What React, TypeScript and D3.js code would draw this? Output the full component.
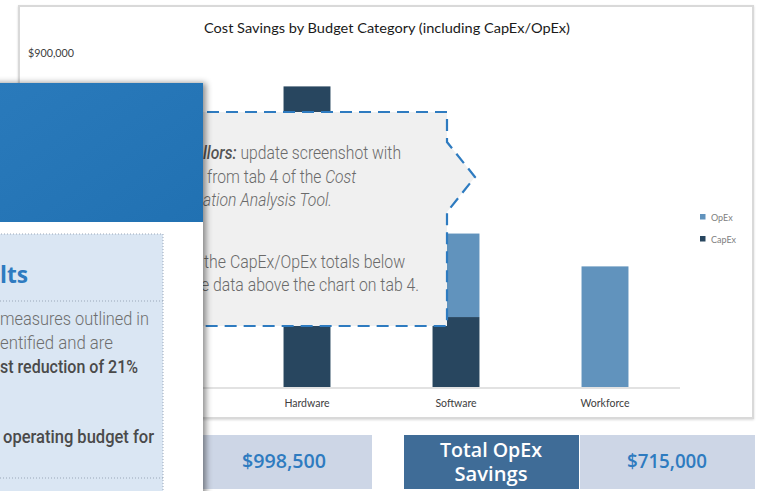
import React, { useLayoutEffect, useRef, useState } from "react";
import * as d3 from "d3";

const categories = ["Hardware", "Software", "Workforce"];
const capexValues = [810000, 188500, 0];
const opexValues = [0, 225000, 325000];
const seriesNames = ["CapEx", "OpEx"];
const legendOrder = ["OpEx", "CapEx"];
const yTickValues = [900000];
const chartTitle = "Cost Savings by Budget Category (including CapEx/OpEx)";
const capexTotalLabel = "$998,500";
const opexTotalLabel = "$715,000";

const W = 757;
const H = 491;
const COLORS: Record<string, string> = { CapEx: "#28465f", OpEx: "#6193bd" };

function Condensed(props: { x: number; y: number; width: number; children: any; [k: string]: any }) {
  const { x, y, width, children, ...rest } = props;
  const ref = useRef<SVGTextElement>(null);
  const [s, setS] = useState(0.8);
  useLayoutEffect(() => {
    if (ref.current) {
      const w = ref.current.getComputedTextLength();
      if (w > 0) setS(width / w);
    }
  }, [width]);
  return (
    <g transform={`translate(${x},${y}) scale(${s},1)`}>
      <text ref={ref} x={0} y={0} {...rest}>
        {children}
      </text>
    </g>
  );
}

export default function App() {
  const x = d3
    .scaleBand<string>()
    .domain(categories)
    .range([232.5, 679.5])
    .paddingInner(0.685)
    .paddingOuter(0.3425);
  const y = d3.scaleLinear().domain([0, 900000]).range([387, 53]);

  const rows = categories.map((c, i) => ({ cat: c, CapEx: capexValues[i], OpEx: opexValues[i] }));
  const stack = d3.stack<any>().keys(seriesNames)(rows);
  const fmt = (v: number) => "$" + d3.format(",")(v);

  const calloutPath = d3.path();
  calloutPath.moveTo(150, 112);
  calloutPath.lineTo(447, 112);
  calloutPath.lineTo(447, 142);
  calloutPath.lineTo(475, 177);
  calloutPath.lineTo(447, 212);
  calloutPath.lineTo(447, 326);
  calloutPath.lineTo(150, 326);
  calloutPath.closePath();

  const cf = "Roboto, sans-serif";
  const cfill = "#6a6a6a";

  return (
    <svg width={W} height={H} style={{ position: "absolute", left: 0, top: 0, background: "#fff" }}>
      <defs>
        <filter id="sh" x="-20%" y="-20%" width="140%" height="140%">
          <feDropShadow dx="3" dy="0" stdDeviation="3" floodColor="#000" floodOpacity="0.45" />
        </filter>
        <filter id="sh2" x="-5%" y="-5%" width="110%" height="110%">
          <feDropShadow dx="0" dy="1" stdDeviation="1" floodColor="#000" floodOpacity="0.15" />
        </filter>
        <linearGradient id="blueg" x1="0" y1="0" x2="1" y2="1">
          <stop offset="0" stopColor="#2a7abb" />
          <stop offset="1" stopColor="#2171b2" />
        </linearGradient>
      </defs>

      {/* chart frame */}
      <rect x={19} y={6} width={734} height={412} fill="#fff" stroke="#d9d9d9" strokeWidth={2} filter="url(#sh2)" />
      <text x={387} y={33} textAnchor="middle" fontFamily="Lato, sans-serif" fontSize={14} fill="#1a1a1a" textLength={366} lengthAdjust="spacingAndGlyphs">
        {chartTitle}
      </text>
      {yTickValues.map((t) => (
        <text key={t} x={28} y={y(t) + 4} fontFamily="Lato, sans-serif" fontSize={10.5} fill="#404040" textLength={46} lengthAdjust="spacingAndGlyphs">
          {fmt(t)}
        </text>
      ))}

      {/* baseline */}
      <line x1={80} x2={680} y1={y(0) + 1} y2={y(0) + 1} stroke="#d9d9d9" strokeWidth={1.5} />

      {/* bars */}
      {stack.map((s) => (
        <g key={s.key} fill={COLORS[s.key]}>
          {s.map((d, i) =>
            d[1] - d[0] > 0 ? (
              <rect key={i} x={x(categories[i])!} width={x.bandwidth()} y={y(d[1])} height={y(d[0]) - y(d[1])} />
            ) : null
          )}
        </g>
      ))}

      {/* category labels */}
      {categories.map((c) => (
        <text key={c} x={x(c)! + x.bandwidth() / 2} y={407} textAnchor="middle" fontFamily="Lato, sans-serif" fontSize={10.5} fill="#404040">
          {c}
        </text>
      ))}

      {/* legend */}
      {legendOrder.map((k, i) => (
        <g key={k}>
          <rect x={700} y={214 + i * 22} width={5.5} height={5.5} fill={COLORS[k]} />
          <text x={711} y={220.5 + i * 22} fontFamily="Lato, sans-serif" fontSize={9} fill="#808080">
            {k}
          </text>
        </g>
      ))}

      {/* callout */}
      <path d={calloutPath.toString()} fill="#f0f0f0" stroke="#2e7bc0" strokeWidth={2.2} strokeDasharray="12 7" />
      <g fontFamily={cf} fontSize={19} fontWeight={300} fill={cfill}>
        <Condensed x={203} y={159} width={198}>
          <tspan fontStyle="italic" fontWeight={500} fill="#555">llors:</tspan>
          <tspan> update screenshot with</tspan>
        </Condensed>
        <Condensed x={207} y={183} width={149}>
          <tspan>from tab 4 of the </tspan>
          <tspan fontStyle="italic">Cost</tspan>
        </Condensed>
        <Condensed x={203} y={206} width={129} fontStyle="italic">ation Analysis Tool.</Condensed>
        <Condensed x={204} y={268} width={201}>the CapEx/OpEx totals below</Condensed>
        <Condensed x={201} y={291} width={218}>e data above the chart on tab 4.</Condensed>
      </g>

      {/* bottom total boxes */}
      <rect x={196} y={435} width={176} height={54} fill="#cdd6e6" />
      <text x={284} y={468} textAnchor="middle" fontFamily="'Open Sans', sans-serif" fontWeight={600} fontSize={20} fill="#2e7bc0" textLength={84} lengthAdjust="spacingAndGlyphs">
        {capexTotalLabel}
      </text>
      <rect x={404} y={435} width={175} height={54} fill="#3f6c97" />
      <text x={491} y={457} textAnchor="middle" fontFamily="'Open Sans', sans-serif" fontWeight={600} fontSize={19} fill="#fff" textLength={102} lengthAdjust="spacingAndGlyphs">
        Total OpEx
      </text>
      <text x={491} y={481} textAnchor="middle" fontFamily="'Open Sans', sans-serif" fontWeight={600} fontSize={19} fill="#fff" textLength={73} lengthAdjust="spacingAndGlyphs">
        Savings
      </text>
      <rect x={580} y={435} width={175} height={54} fill="#cdd6e6" />
      <text x={667} y={468} textAnchor="middle" fontFamily="'Open Sans', sans-serif" fontWeight={600} fontSize={20} fill="#2e7bc0" textLength={80} lengthAdjust="spacingAndGlyphs">
        {opexTotalLabel}
      </text>

      {/* overlapping document panel */}
      <rect x={-20} y={83} width={223} height={430} fill="#fff" filter="url(#sh)" />
      <rect x={0} y={83} width={203} height={139} fill="url(#blueg)" />
      <rect x={-5} y={234} width={168} height={300} fill="#dae6f3" stroke="#9aa7b8" strokeWidth={1} strokeDasharray="1 2" />
      <line x1={0} x2={163} y1={301} y2={301} stroke="#9aa7b8" strokeWidth={1} strokeDasharray="1 2" />
      <line x1={0} x2={163} y1={478} y2={478} stroke="#9aa7b8" strokeWidth={1} strokeDasharray="1 2" />
      <text x={0} y={283} fontFamily="'Open Sans', sans-serif" fontWeight={700} fontSize={24} fill="#2e7bc0" textLength={28} lengthAdjust="spacingAndGlyphs">lts</text>
      <g fontFamily={cf} fontSize={19} fontWeight={300} fill="#6e6e6e">
        <Condensed x={0} y={325} width={149}>measures outlined in</Condensed>
        <Condensed x={0} y={349} width={113}>entified and are</Condensed>
        <Condensed x={0} y={373} width={138} fontWeight={500} fill="#4a4a4a">st reduction of 21%</Condensed>
        <Condensed x={3} y={443} width={151} fontWeight={500} fill="#4a4a4a">operating budget for</Condensed>
      </g>
    </svg>
  );
}
